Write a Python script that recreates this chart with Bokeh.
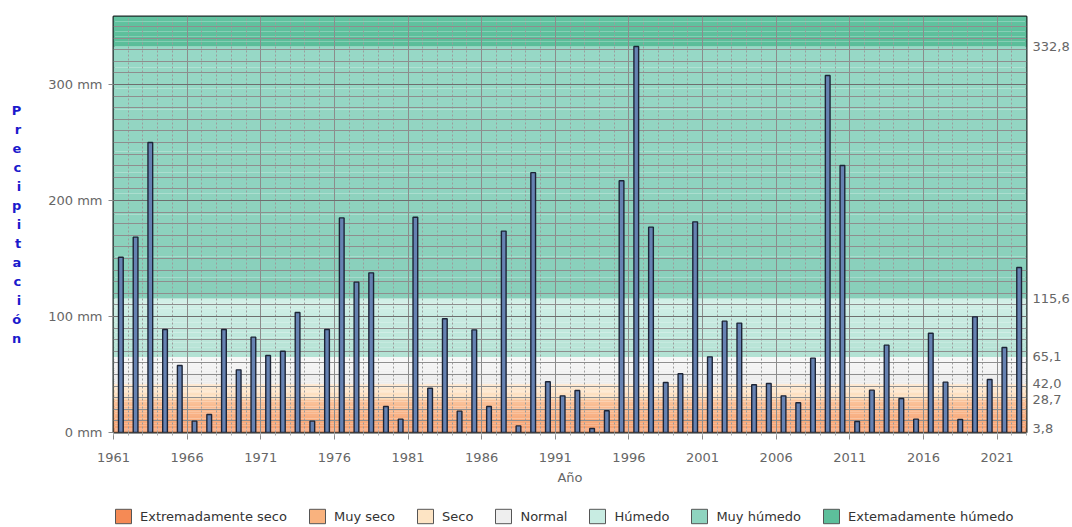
from bokeh.plotting import figure
from bokeh.layouts import column
from bokeh.models import (Range1d, FixedTicker, LinearAxis, Legend, LegendItem,
                          SingleIntervalTicker, PrintfTickFormatter, CustomJSTickFormatter)
from bokeh.embed import file_html
from bokeh.resources import INLINE

# ---------------- data ----------------
years = list(range(1961, 2023))
precip = [151.1, 168.4, 250.0, 88.8, 57.8, 9.8, 15.5, 88.8, 54.0, 82.2,
          66.4, 70.1, 103.4, 9.8, 88.8, 185.0, 129.6, 137.6, 22.4, 11.5,
          185.6, 38.2, 98.0, 18.4, 88.5, 22.4, 173.6, 5.7, 224.0, 43.7,
          31.6, 36.2, 3.4, 18.7, 217.0, 332.8, 177.0, 43.1, 50.6, 181.6,
          65.2, 96.0, 94.3, 41.1, 42.2, 31.6, 25.6, 64.1, 307.8, 230.2,
          9.5, 36.5, 75.3, 29.3, 11.5, 85.6, 43.4, 11.2, 99.7, 45.7,
          73.3, 142.2]

band_names = ["Extremadamente seco", "Muy seco", "Seco", "Normal",
              "Húmedo", "Muy húmedo", "Extemadamente húmedo"]
band_limits = [0.0, 3.8, 28.7, 42.0, 65.1, 115.6, 332.8, 358.6]
band_bottom_colors = ["#f4905c", "#f6a373", "#fcdcb8", "#ececec", "#b2e1d3", "#88cfba", "#5abd99"]
band_top_colors = ["#f59a68", "#fac49c", "#feead4", "#f7f7f7", "#d3f0e8", "#98d8c6", "#62c3a0"]
legend_colors = ["#f58a55", "#f9b27e", "#fde4c4", "#eeeeee", "#c8ece2", "#8fd4bf", "#5dbf9b"]

thresholds = [3.8, 28.7, 42.0, 65.1, 115.6, 332.8]
x_major_years = list(range(1961, 2024, 5))
x_minor_years = list(range(1961, 2024))

FONT = "DejaVu Sans"

# ---------------- main figure ----------------
p = figure(width=1072, height=497, output_backend="svg", toolbar_location=None,
           x_range=Range1d(1961, 2023), y_range=Range1d(0, band_limits[-1]),
           min_border_left=113, min_border_right=45, min_border_top=16,
           min_border_bottom=65, background_fill_color="white")


def hex2rgb(h):
    h = h.lstrip("#")
    return [int(h[i:i + 2], 16) for i in (0, 2, 4)]


def mix(c1, c2, t):
    a, b = hex2rgb(c1), hex2rgb(c2)
    return "#%02x%02x%02x" % tuple(int(round(a[i] + (b[i] - a[i]) * t)) for i in range(3))


# background bands (soft vertical gradient in each band)
NSTRIP = 12
qb, qt, qc = [], [], []
for i in range(len(band_names)):
    lo, hi = band_limits[i], band_limits[i + 1]
    for k in range(NSTRIP):
        b = lo + (hi - lo) * k / NSTRIP
        t = lo + (hi - lo) * (k + 1) / NSTRIP
        qb.append(b)
        qt.append(t)
        qc.append(mix(band_bottom_colors[i], band_top_colors[i], (k + 0.5) / NSTRIP))
p.quad(left=[years[0]] * len(qb), right=[years[-1] + 1] * len(qb), bottom=qb, top=qt,
       fill_color=qc, line_color=None, level="image")

# bars
p.vbar(x=[y + 0.5 for y in years], top=precip, bottom=0, width=0.32,
       fill_color="#6682b2", line_color="#1c2436", line_width=1.4)

# grids
p.xgrid.ticker = FixedTicker(ticks=x_major_years, minor_ticks=x_minor_years)
p.xgrid.grid_line_color = "#8c8c8c"
p.xgrid.grid_line_width = 1
p.xgrid.minor_grid_line_color = "#9c9c9c"
p.xgrid.minor_grid_line_dash = "2 2"

p.yaxis.ticker = SingleIntervalTicker(interval=100, num_minor_ticks=10)
p.ygrid.grid_line_color = "#6e6e6e"
p.ygrid.minor_grid_line_color = "#8e8e8e"
p.ygrid.grid_line_width = 1.2
p.ygrid.minor_grid_line_width = 1

p.outline_line_color = "#1e2828"
p.outline_line_width = 2

# x axis
xa = p.xaxis[0]
xa.ticker = FixedTicker(ticks=x_major_years, minor_ticks=x_minor_years)
xa.axis_line_color = None
xa.major_tick_line_color = "#8a8a8a"
xa.minor_tick_line_color = "#aaaaaa"
xa.major_tick_out = 7
xa.major_tick_in = 0
xa.minor_tick_out = 3
xa.minor_tick_in = 0
xa.major_label_standoff = 13
xa.major_label_text_font = FONT
xa.major_label_text_font_size = "13px"
xa.major_label_text_color = "#666666"
xa.axis_label = "Año"
xa.axis_label_standoff = 5
xa.axis_label_text_font = FONT
xa.axis_label_text_font_size = "13px"
xa.axis_label_text_font_style = "normal"
xa.axis_label_text_color = "#666666"

# y axis (left)
ya = p.yaxis[0]
ya.formatter = PrintfTickFormatter(format="%d mm")
ya.axis_line_color = None
ya.major_tick_line_color = "#8a8a8a"
ya.major_tick_out = 5
ya.major_tick_in = 0
ya.minor_tick_out = 0
ya.minor_tick_in = 0
ya.major_label_standoff = 6
ya.major_label_text_font = FONT
ya.major_label_text_font_size = "13px"
ya.major_label_text_color = "#666666"
ya.axis_label = "\n".join("Precipitación")
ya.axis_label_orientation = "horizontal"
ya.axis_label_standoff = 24
ya.axis_label_text_font = FONT
ya.axis_label_text_font_size = "13px"
ya.axis_label_text_font_style = "bold"
ya.axis_label_text_color = "#1a1acc"
ya.axis_label_text_line_height = 1.27
ya.axis_label_text_align = "center"

# right axis with thresholds
ra = LinearAxis(ticker=FixedTicker(ticks=thresholds),
                formatter=CustomJSTickFormatter(code="return tick.toFixed(1).replace('.', ',');"))
ra.axis_line_color = None
ra.major_tick_out = 0
ra.major_tick_in = 0
ra.minor_tick_out = 0
ra.minor_tick_in = 0
ra.major_label_standoff = 6
ra.major_label_text_font = FONT
ra.major_label_text_font_size = "13px"
ra.major_label_text_color = "#666666"
p.add_layout(ra, "right")

# ---------------- legend strip ----------------
lg = figure(width=1072, height=30, output_backend="svg", toolbar_location=None,
            x_range=Range1d(0, 1), y_range=Range1d(0, 1),
            x_axis_type=None, y_axis_type=None, min_border=0,
            background_fill_color="white")
lg.outline_line_color = None
lg.grid.visible = False

items = []
for name, col in zip(band_names, legend_colors):
    # legend-only swatch renderer, kept outside the visible range
    r = lg.quad(left=[-3], right=[-2], bottom=[-3], top=[-2], fill_color=col,
                line_color="#555555", line_width=1)
    items.append(LegendItem(label=name, renderers=[r]))
legend = Legend(items=items, orientation="horizontal", location=(0, 2),
                glyph_width=20, glyph_height=18, label_standoff=7, spacing=20,
                padding=0, margin=0, border_line_color=None, background_fill_alpha=0,
                label_text_font=FONT, label_text_font_size="13px", label_text_color="#333333")
lg.add_layout(legend)

layout = column(p, lg, spacing=0)
open("out.html", "w").write(file_html(layout, INLINE))
